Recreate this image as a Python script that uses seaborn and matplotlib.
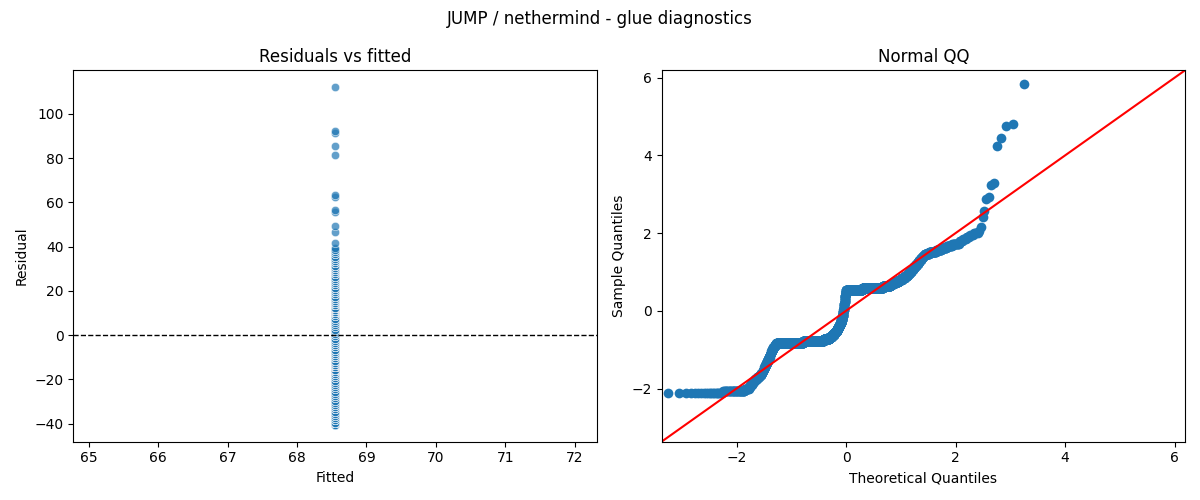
# coding: utf-8
# residual diagnostics for the glue timings (JUMP / nethermind)
from statistics import NormalDist

import numpy as np
import pandas as pd
import matplotlib
matplotlib.use('Agg')
import matplotlib.pyplot as plt
import seaborn as sns

# observed glue values and how often each one occurs
GLUE_VALUES = [28, 29, 30, 31, 32, 33, 34, 35, 36, 37,
               38, 39, 40, 41, 42, 43, 44, 45, 46, 47,
               48, 49, 50, 51, 52, 53, 54, 55, 56, 57,
               58, 59, 60, 61, 62, 63, 64, 65, 66, 67,
               68, 69, 70, 71, 72, 73, 74, 75, 76, 77,
               78, 79, 80, 81, 82, 83, 84, 85, 86, 87,
               88, 89, 90, 91, 92, 93, 94, 95, 96, 97,
               98, 99, 100, 101, 102, 103, 104, 105, 106, 107,
               108, 110, 115, 118, 124, 125, 131, 132, 150, 154,
               160, 161, 180.6]
GLUE_COUNTS = [20, 35, 10, 4, 4, 4, 5, 8, 8, 7,
               4, 4, 4, 4, 4, 4, 4, 4, 4, 4,
               4, 5, 5, 6, 10, 200, 215, 66, 30, 25,
               22, 19, 15, 14, 12, 11, 9, 6, 5, 4,
               4, 4, 3, 3, 3, 3, 3, 3, 4, 4,
               6, 200, 230, 70, 30, 40, 25, 22, 18, 13,
               11, 10, 10, 10, 9, 8, 8, 8, 9, 20,
               25, 16, 13, 12, 12, 5, 4, 4, 3, 4,
               1, 1, 1, 1, 1, 1, 1, 1, 1, 1,
               1, 1, 1]
# intercept-only model -> one fitted value for every row
FITTED_VALUE = 68.55

observed = np.repeat(np.array(GLUE_VALUES, dtype=float), GLUE_COUNTS)
df = pd.DataFrame({"fitted": np.full(observed.size, FITTED_VALUE)})
df["resid"] = observed - df["fitted"]

# normal QQ (standardised residuals, positions i/(n+1))
n = len(df)
std_resid = np.sort((df["resid"] - df["resid"].mean()) / df["resid"].std(ddof=0))
theo = np.array([NormalDist().inv_cdf(i / (n + 1)) for i in range(1, n + 1)])
qq = pd.DataFrame({"theoretical": theo, "sample": std_resid})

fig, axes = plt.subplots(1, 2, figsize=(12, 5), dpi=100)

# residuals vs fitted
ax = axes[0]
sns.scatterplot(data=df, x="fitted", y="resid", alpha=0.7, ax=ax)
ax.axhline(0, color='black', linestyle='--', lw=1)
ax.set_title("Residuals vs fitted")
ax.set_xlabel("Fitted")
ax.set_ylabel("Residual")

# normal QQ
ax = axes[1]
sns.scatterplot(data=qq, x="theoretical", y="sample", color='C0',
                s=49, linewidth=0, ax=ax)
lims = (-3.37, 6.19)
ax.plot(lims, lims, color='red', lw=1.5)
ax.set_xlim(lims)
ax.set_ylim(lims)
ax.set_title("Normal QQ")
ax.set_xlabel("Theoretical Quantiles")
ax.set_ylabel("Sample Quantiles")

fig.suptitle("JUMP / nethermind - glue diagnostics")
plt.tight_layout()
plt.savefig("out.png", dpi=100)
